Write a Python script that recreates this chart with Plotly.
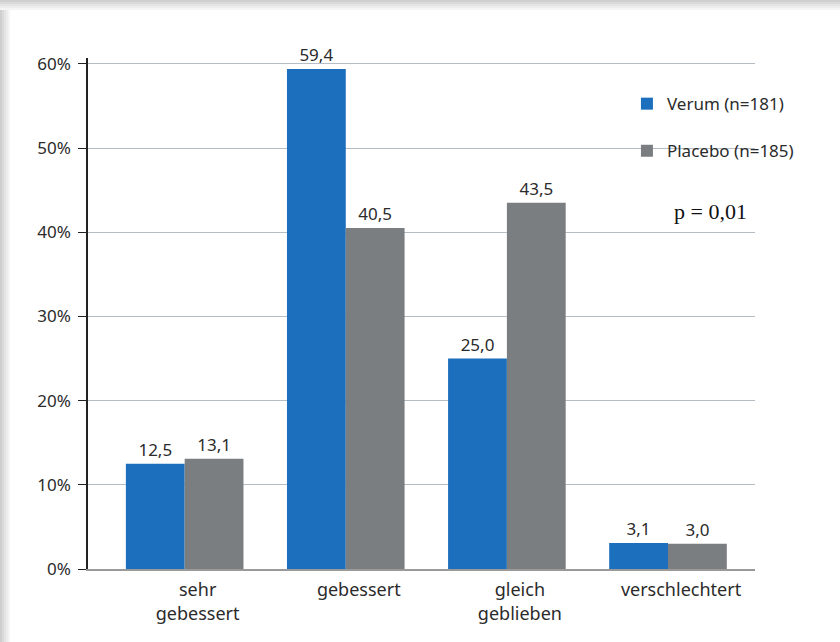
import plotly.graph_objects as go

categories = ["sehr<br>gebessert", "gebessert", "gleich<br>geblieben", "verschlechtert"]
verum = [12.5, 59.4, 25.0, 3.1]
placebo = [13.1, 40.5, 43.5, 3.0]
series_names = ["Verum (n=181)", "Placebo (n=185)"]
y_ticks = [0, 10, 20, 30, 40, 50, 60]
y_tick_labels = [f"{v}%" for v in y_ticks]
p_text = "p = 0,01"

BLUE = "#1c6fbd"
GRAY = "#7b7e81"
TXT = "#2b2b2b"
SANS = "Noto Sans"


def fmt(v):
    return f"{v:.1f}".replace(".", ",")


fig = go.Figure()
for name, vals, col, grp in [(series_names[0], verum, BLUE, "a"), (series_names[1], placebo, GRAY, "b")]:
    fig.add_trace(go.Bar(
        x=categories, y=vals, name=name, marker=dict(color=col, line=dict(width=0)),
        text=[fmt(v) for v in vals], textposition="outside",
        textfont=dict(family=SANS, size=17, color=TXT),
        cliponaxis=False, legendgroup=grp,
    ))

# frame shadow (decorative)
L, R, T, B = 88, 755, 58, 569
W, H = R - L, B - T


def px(x):
    return (x - L) / W


def py(y):
    return (B - y) / H


shades = ["#cfcfcf", "#dadada", "#e4e4e4", "#ededed", "#f5f5f5"]
shapes = []
for i, c in enumerate(shades):
    shapes.append(dict(type="rect", xref="paper", yref="paper", x0=px(0), x1=px(840),
                       y0=py(2 * i), y1=py(2 * i + 2), fillcolor=c, line=dict(width=0), layer="below"))
    shapes.append(dict(type="rect", xref="paper", yref="paper", x0=px(2 * i), x1=px(2 * i + 2),
                       y0=py(2 * i), y1=py(642), fillcolor=c, line=dict(width=0), layer="below"))

fig.update_layout(
    width=840, height=642,
    margin=dict(l=L, r=840 - R, t=T, b=642 - B, pad=0),
    paper_bgcolor="white", plot_bgcolor="rgba(0,0,0,0)",
    barmode="group", bargap=0.27, bargroupgap=0,
    font=dict(family=SANS, color=TXT),
    shapes=shapes,
    showlegend=True,
    legend=dict(x=0.808, y=0.945, xanchor="left", yanchor="top", bgcolor="rgba(0,0,0,0)",
                font=dict(family=SANS, size=17, color=TXT), tracegroupgap=22,
                traceorder="grouped", itemclick=False),
    xaxis=dict(range=[-0.6, 3.54], showline=True, linecolor="#9a9a9a", linewidth=1.5,
               showgrid=False, ticks="", tickfont=dict(family=SANS, size=18, color=TXT),
               ticklabelshift=13, ticklabelstandoff=4, fixedrange=True),
    yaxis=dict(range=[0, 60.7], tickvals=y_ticks, ticktext=y_tick_labels, showline=True,
               linecolor="#222222", linewidth=1.5, ticks="outside", ticklen=8, tickcolor="#222222",
               tickwidth=1.2, showgrid=True, gridcolor="#b4bec6", gridwidth=1.2, zeroline=False,
               tickfont=dict(family=SANS, size=17, color=TXT), ticklabelstandoff=4, fixedrange=True),
    annotations=[dict(text=p_text, xref="paper", yref="paper", x=0.934, y=0.699,
                      xanchor="center", yanchor="middle", showarrow=False,
                      font=dict(family="Liberation Serif", size=22, color="#111111"))],
)

fig.write_html("out.html")
